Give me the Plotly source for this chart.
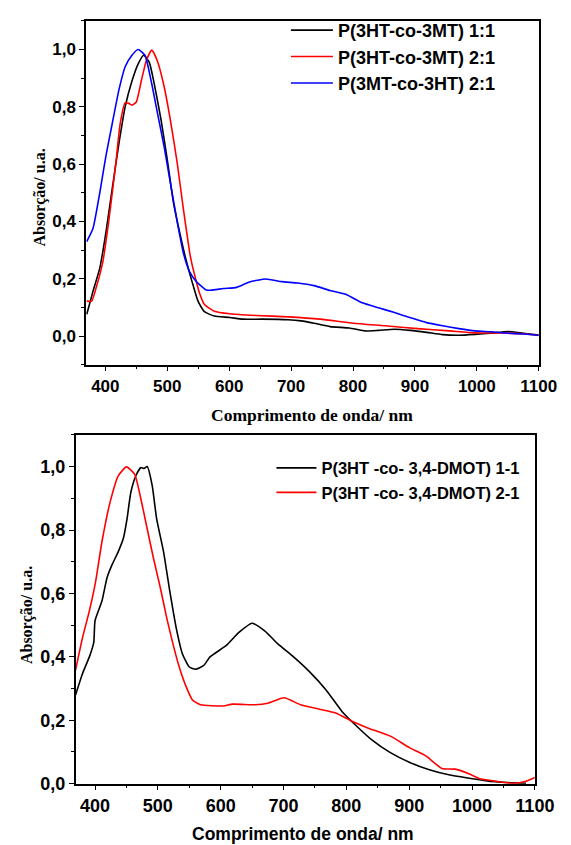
import plotly.graph_objects as go

# ---------------- data ----------------
# Top panel
top_black_x = [370, 380, 391, 401, 411, 422, 432, 443, 453, 462, 471, 479, 490, 500, 510, 521, 531, 540, 550, 560,
               576, 601, 622, 653, 695, 716, 737, 763, 794, 820, 841, 867, 893, 919, 945, 971, 997, 1023, 1050, 1075, 1100]
top_black_y = [0.076, 0.156, 0.237, 0.363, 0.513, 0.673, 0.80, 0.89, 0.95, 0.98, 0.955, 0.88, 0.754, 0.616, 0.466,
               0.352, 0.26, 0.19, 0.12, 0.085, 0.07, 0.065, 0.059, 0.059, 0.057, 0.053, 0.045, 0.033, 0.028, 0.018,
               0.02, 0.024, 0.02, 0.013, 0.005, 0.003, 0.006, 0.01, 0.016, 0.01, 0.004]

top_red_x = [370, 378, 385, 396, 406, 417, 424, 432, 438, 443, 450, 458, 466, 475, 484, 495, 505, 516, 526, 536,
             540, 547, 552, 560, 576, 601, 643, 695, 747, 800, 852, 904, 956, 997, 1037, 1075, 1100]
top_red_y = [0.122, 0.122, 0.168, 0.26, 0.41, 0.605, 0.742, 0.814, 0.812, 0.806, 0.817, 0.89, 0.96, 0.998, 0.96,
             0.87, 0.754, 0.605, 0.444, 0.294, 0.25, 0.19, 0.15, 0.11, 0.087, 0.078, 0.072, 0.067, 0.059, 0.045,
             0.036, 0.026, 0.018, 0.011, 0.011, 0.008, 0.002]

top_blue_x = [370, 380, 391, 401, 411, 422, 432, 443, 453, 464, 474, 484, 495, 505, 516, 526, 536, 547, 562, 570,
              591, 612, 633, 659, 685, 711, 737, 763, 789, 815, 841, 867, 893, 919, 945, 971, 997, 1023, 1050, 1075, 1100]
top_blue_y = [0.33, 0.375, 0.50, 0.63, 0.74, 0.86, 0.94, 0.98, 1.0, 0.98, 0.89, 0.78, 0.66, 0.535, 0.40, 0.29,
              0.225, 0.19, 0.162, 0.16, 0.166, 0.17, 0.189, 0.199, 0.19, 0.185, 0.176, 0.159, 0.145, 0.116, 0.099,
              0.082, 0.064, 0.047, 0.036, 0.026, 0.018, 0.015, 0.01, 0.007, 0.003]

# Bottom panel
bot_black_x = [369, 380, 391, 398, 400, 411, 419, 427, 437, 445, 451, 457, 465, 473, 478, 483, 491, 498, 509, 519,
               529, 539, 550, 560, 573, 583, 609, 629, 650, 670, 691, 716, 742, 768, 793, 814, 840, 870, 901, 932,
               963, 993, 1024, 1055, 1086]
bot_black_y = [0.28, 0.347, 0.40, 0.446, 0.514, 0.576, 0.649, 0.69, 0.732, 0.773, 0.836, 0.919, 0.971, 0.997, 0.994,
               1.0, 0.94, 0.836, 0.732, 0.607, 0.493, 0.41, 0.368, 0.361, 0.373, 0.40, 0.436, 0.477, 0.506, 0.482,
               0.441, 0.40, 0.352, 0.295, 0.228, 0.186, 0.139, 0.098, 0.067, 0.044, 0.028, 0.018, 0.009, 0.004, 0.001]

bot_red_x = [369, 380, 391, 401, 411, 424, 437, 450, 463, 473, 483, 493, 504, 514, 524, 534, 545, 555, 568, 604,
             619, 655, 675, 701, 727, 757, 783, 809, 834, 870, 901, 927, 952, 973, 993, 1014, 1034, 1065, 1086, 1100]
bot_red_y = [0.358, 0.46, 0.545, 0.638, 0.763, 0.888, 0.971, 0.999, 0.976, 0.898, 0.804, 0.711, 0.617, 0.524, 0.441,
             0.368, 0.306, 0.264, 0.249, 0.245, 0.251, 0.249, 0.254, 0.271, 0.249, 0.235, 0.223, 0.197, 0.176,
             0.15, 0.113, 0.087, 0.048, 0.046, 0.033, 0.015, 0.009, 0.001, 0.008, 0.02]

top_names = ["P(3HT-co-3MT) 1:1", "P(3HT-co-3MT) 2:1", "P(3MT-co-3HT) 2:1"]
bot_names = ["P(3HT -co- 3,4-DMOT) 1-1", "P(3HT -co- 3,4-DMOT) 2-1"]
x_title = "Comprimento de onda/ nm"
y_title = "Absorção/ u.a."

# ---------------- figure ----------------
W, H = 571, 845
fig = go.Figure()

LW = 1.6


def ln(color):
    return dict(color=color, width=LW, shape="spline", smoothing=0.5)


fig.add_trace(go.Scatter(x=top_black_x, y=top_black_y, mode="lines", name=top_names[0],
                         line=ln("#000000"), xaxis="x", yaxis="y", legend="legend"))
fig.add_trace(go.Scatter(x=top_red_x, y=top_red_y, mode="lines", name=top_names[1],
                         line=ln("#ff0000"), xaxis="x", yaxis="y", legend="legend"))
fig.add_trace(go.Scatter(x=top_blue_x, y=top_blue_y, mode="lines", name=top_names[2],
                         line=ln("#0000ff"), xaxis="x", yaxis="y", legend="legend"))
fig.add_trace(go.Scatter(x=bot_black_x, y=bot_black_y, mode="lines", name=bot_names[0],
                         line=ln("#000000"), xaxis="x2", yaxis="y2", legend="legend2"))
fig.add_trace(go.Scatter(x=bot_red_x, y=bot_red_y, mode="lines", name=bot_names[1],
                         line=ln("#ff0000"), xaxis="x2", yaxis="y2", legend="legend2"))

sans = "Liberation Sans, Arial, sans-serif"
serif = "Liberation Serif, Times New Roman, serif"


def xaxis(dom, anchor, tsize):
    return dict(domain=dom, anchor=anchor, range=[369, 1100], tick0=400, dtick=100, ticks="outside",
                ticklen=5, tickwidth=1.2, tickcolor="black", showline=True, linecolor="black", linewidth=1.5,
                mirror=True, showgrid=False, zeroline=False,
                tickfont=dict(family=sans, size=tsize, color="black", weight="bold"),
                minor=dict(dtick=50, ticks="outside", ticklen=3, tickcolor="black", tickwidth=1, showgrid=False))


def yaxis(dom, anchor, rng, tsize):
    return dict(domain=dom, anchor=anchor, range=rng, tick0=0, dtick=0.2, tickformat=".1f", ticks="outside",
                ticklen=5, tickwidth=1.2, tickcolor="black", showline=True, linecolor="black", linewidth=1.5,
                mirror=True, showgrid=False, zeroline=False,
                tickfont=dict(family=sans, size=tsize, color="black", weight="bold"),
                minor=dict(dtick=0.1, ticks="outside", ticklen=3, tickcolor="black", tickwidth=1, showgrid=False))


fig.update_layout(
    width=W, height=H, margin=dict(l=0, r=0, t=0, b=0),
    paper_bgcolor="white", plot_bgcolor="white", separators=",.",
    xaxis=xaxis([81 / W, 550 / W], "y", 17),
    yaxis=yaxis([1 - 361 / H, 1 - 13 / H], "x", [-0.1, 1.1], 17),
    xaxis2=xaxis([70 / W, 546 / W], "y2", 18),
    yaxis2=yaxis([1 - 785 / H, 1 - 432 / H], "x2", [0, 1.1], 18),
    legend=dict(x=288 / W, y=1 - 4 / H, xanchor="left", yanchor="top", bgcolor="rgba(0,0,0,0)",
                itemwidth=42,
                font=dict(family=sans, size=18, color="black", weight="bold"), tracegroupgap=0),
    legend2=dict(x=273 / W, y=1 - 448 / H, xanchor="left", yanchor="top", bgcolor="rgba(0,0,0,0)",
                 itemwidth=40,
                 font=dict(family=sans, size=16.5, color="black", weight="bold"), tracegroupgap=0),
    showlegend=True,
)

annotations = [
    dict(text=x_title, x=315 / W, y=1 - 412 / H, xref="paper", yref="paper", showarrow=False,
         xanchor="center", yanchor="middle", font=dict(family=serif, size=17.5, color="black", weight="bold")),
    dict(text=y_title, x=33 / W, y=1 - 192 / H, xref="paper", yref="paper", showarrow=False, textangle=-90,
         xanchor="center", yanchor="middle", font=dict(family=serif, size=16, color="black", weight="bold")),
    dict(text=x_title, x=306 / W, y=1 - 836 / H, xref="paper", yref="paper", showarrow=False,
         xanchor="center", yanchor="middle", font=dict(family=sans, size=17.5, color="black", weight="bold")),
    dict(text=y_title, x=19 / W, y=1 - 614 / H, xref="paper", yref="paper", showarrow=False, textangle=-90,
         xanchor="center", yanchor="middle", font=dict(family=serif, size=16, color="black", weight="bold")),
]
fig.update_layout(annotations=annotations)

fig.write_html("out.html")
